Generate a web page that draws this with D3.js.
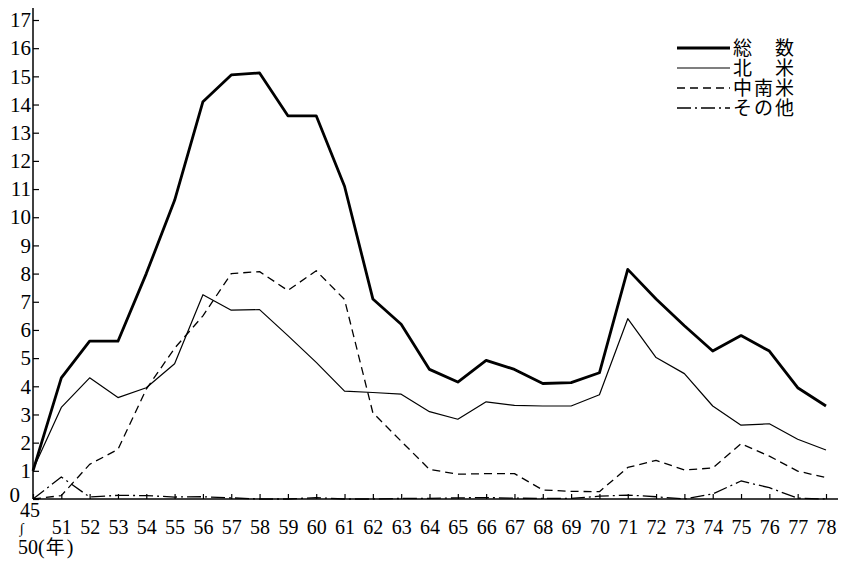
<!DOCTYPE html>
<html>
<head>
<meta charset="utf-8">
<script src="https://cdn.jsdelivr.net/npm/d3@7"></script>
<style>
  html, body { margin: 0; padding: 0; background: #fff; }
  svg { display: block; }
</style>
</head>
<body>
<div id="chart"></div>
<script>
// ---- data ----
const categories = ["45〜50","51","52","53","54","55","56","57","58","59","60","61","62","63","64","65","66","67","68","69","70","71","72","73","74","75","76","77","78"];
const xTickLabels = ["45","51","52","53","54","55","56","57","58","59","60","61","62","63","64","65","66","67","68","69","70","71","72","73","74","75","76","77","78"];
const yTickValues = [0,1,2,3,4,5,6,7,8,9,10,11,12,13,14,15,16,17];
const seriesNames = ["総\u3000数", "北\u3000米", "中南米", "その他"];

const total   = [1.0, 4.3, 5.6, 5.6, 8.0, 10.6, 14.1, 15.05, 15.12, 13.6, 13.6, 11.1, 7.1, 6.2, 4.6, 4.15, 4.92, 4.6, 4.1, 4.13, 4.48, 8.15, 7.1, 6.15, 5.25, 5.8, 5.25, 3.95, 3.3];
const northAm = [1.05, 3.25, 4.3, 3.6, 3.95, 4.8, 7.25, 6.7, 6.72, 5.8, 4.85, 3.83, 3.78, 3.72, 3.1, 2.83, 3.45, 3.32, 3.3, 3.3, 3.7, 6.4, 5.02, 4.45, 3.3, 2.62, 2.67, 2.12, 1.74];
const latinAm = [0, 0.12, 1.23, 1.76, 3.9, 5.35, 6.5, 8.0, 8.07, 7.4, 8.1, 7.08, 3.06, 2.05, 1.05, 0.88, 0.9, 0.9, 0.32, 0.27, 0.26, 1.12, 1.37, 1.03, 1.1, 1.96, 1.52, 0.99, 0.76];
const others  = [0, 0.78, 0.07, 0.13, 0.12, 0.07, 0.08, 0.04, 0.0, 0.0, 0.05, 0.0, 0.0, 0.02, 0.02, 0.04, 0.05, 0.03, 0.02, 0.02, 0.1, 0.14, 0.08, 0.0, 0.18, 0.64, 0.4, 0.03, 0.0];

// ---- styles ----
const seriesList = [
  {name: seriesNames[0], values: total,   width: 2.8, dash: null},
  {name: seriesNames[1], values: northAm, width: 1.2, dash: null},
  {name: seriesNames[2], values: latinAm, width: 1.3, dash: "8,5"},
  {name: seriesNames[3], values: others,  width: 1.3, dash: "14,4,2,4"}
];

const SERIF = '"Liberation Serif", "DejaVu Serif", serif';
const CJK = '"Liberation Sans", "Noto Sans CJK JP", sans-serif';

const W = 850, H = 572;
const svg = d3.select("#chart").append("svg").attr("width", W).attr("height", H);

const x = d3.scaleLinear().domain([0, categories.length - 1]).range([33, 826]);
const y = d3.scaleLinear().domain([0, 17]).range([499, 20]);

// axes lines
svg.append("line").attr("x1", x(0)).attr("x2", x(categories.length - 1) + 12)
  .attr("y1", y(0)).attr("y2", y(0)).attr("stroke", "#000").attr("stroke-width", 1.5);
svg.append("line").attr("x1", x(0)).attr("x2", x(0))
  .attr("y1", y(0)).attr("y2", y(17) - 12).attr("stroke", "#000").attr("stroke-width", 1.5);

// y axis
const yAxis = d3.axisLeft(y).tickValues(yTickValues).tickSizeInner(-6).tickSizeOuter(0).tickPadding(2).tickFormat(d3.format("d"));
const gy = svg.append("g").attr("transform", `translate(${x(0)},0)`).call(yAxis);
gy.select(".domain").remove();
gy.attr("font-family", null).attr("font-size", null);
gy.selectAll("line").attr("stroke", "#000").attr("stroke-width", 1.2);
gy.selectAll("text").style("font-family", SERIF).style("font-size", "21px").attr("fill", "#000");
gy.selectAll(".tick").filter(d => d === 0).select("text").attr("x", -13).attr("dy", "0.12em");

// x axis
const xAxis = d3.axisBottom(x).tickValues(d3.range(categories.length)).tickSizeInner(-5).tickSizeOuter(0)
  .tickFormat((d, i) => i === 0 ? "" : xTickLabels[i]);
const gx = svg.append("g").attr("transform", `translate(0,${y(0)})`).call(xAxis);
gx.select(".domain").remove();
gx.attr("font-family", null).attr("font-size", null);
gx.selectAll("line").attr("stroke", "#000").attr("stroke-width", 1.2);
gx.selectAll("text").style("font-family", SERIF).style("font-size", "20px").attr("fill", "#000")
  .attr("y", 35).attr("dy", 0);

// first composite label: 45 ∫ 50(年)
svg.append("text").attr("x", x(0) - 3).attr("y", y(0) + 18).attr("text-anchor", "middle")
  .style("font-family", SERIF).style("font-size", "20px").text(xTickLabels[0]);
svg.append("text").attr("x", x(0) - 11).attr("y", y(0) + 34).attr("text-anchor", "middle")
  .style("font-family", SERIF).style("font-size", "14px").text("∫");
const yl = svg.append("text").attr("x", x(0) - 15).attr("y", y(0) + 55)
  .style("font-family", SERIF).style("font-size", "20px");
yl.append("tspan").text("50(");
yl.append("tspan").style("font-family", CJK).style("font-size", "19px").attr("dx", 1).text("年");
yl.append("tspan").attr("dx", 2).text(")");

// lines
const line = d3.line().x((d, i) => x(i)).y(d => y(d));
seriesList.forEach(s => {
  svg.append("path").datum(s.values)
    .attr("d", line)
    .attr("fill", "none")
    .attr("stroke", "#000")
    .attr("stroke-width", s.width)
    .attr("stroke-linejoin", "round")
    .attr("stroke-dasharray", s.dash);
});

// legend
const lg = svg.append("g").attr("transform", "translate(677,48)");
seriesList.forEach((s, i) => {
  const row = lg.append("g").attr("transform", `translate(0,${i * 20})`);
  row.append("line").attr("x1", 0).attr("x2", 53).attr("y1", 0).attr("y2", 0)
    .attr("stroke", "#000").attr("stroke-width", s.width).attr("stroke-dasharray", s.dash);
  row.append("text").attr("x", 56).attr("y", 7).style("font-family", CJK).style("font-size", "19px")
    .style("letter-spacing", "2px").attr("fill", "#000").text(s.name);
});
</script>
</body>
</html>
